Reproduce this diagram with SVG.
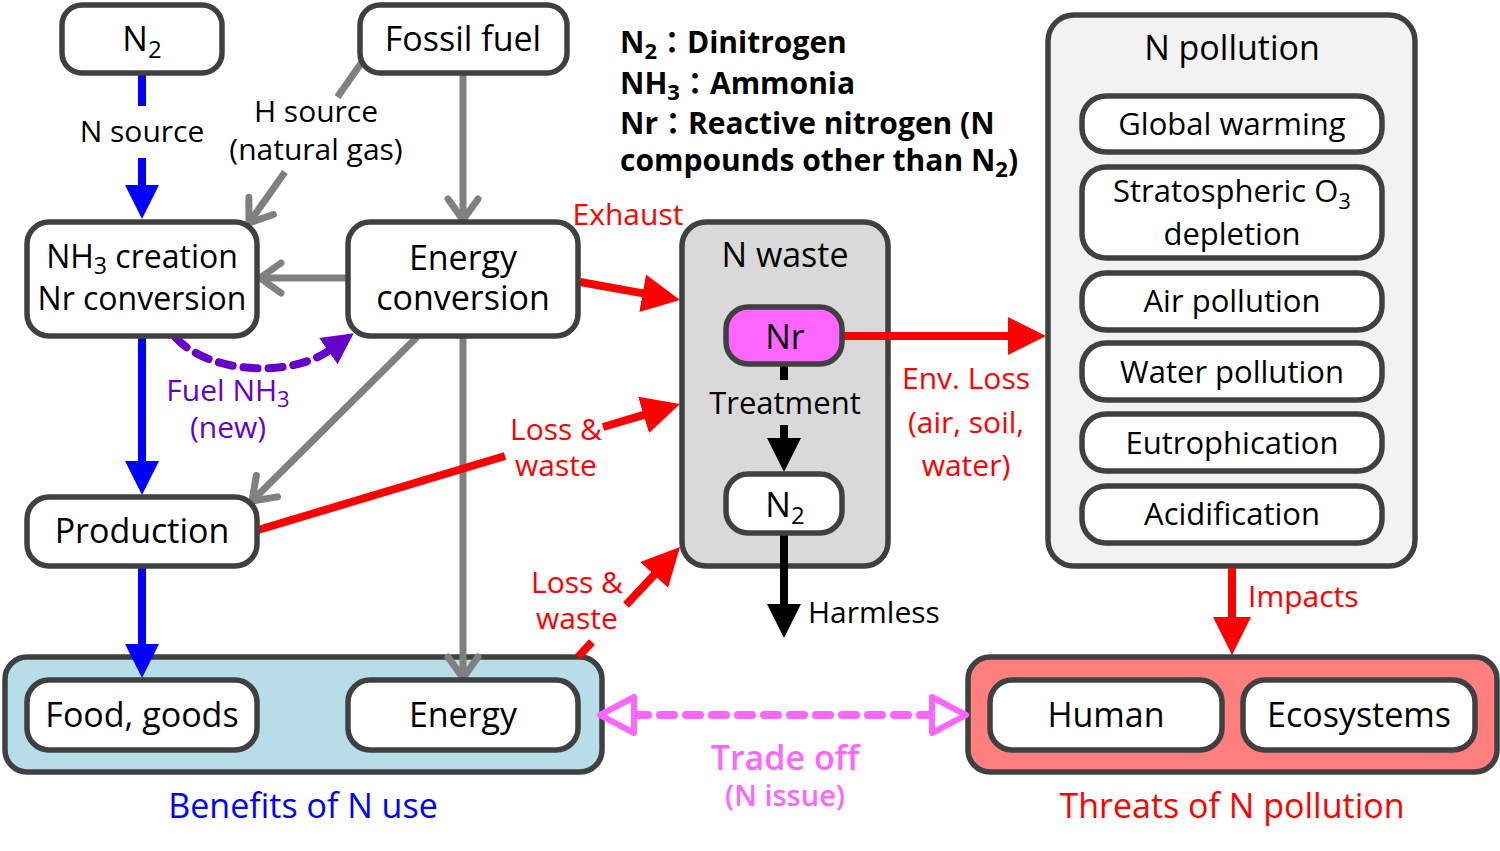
<svg xmlns="http://www.w3.org/2000/svg" width="1500" height="851" viewBox="0 0 1500 851">
<style>
text{font-family:"Open Sans","Noto Sans","Noto Sans CJK JP",sans-serif;fill:#000;text-anchor:middle}
.box{fill:#fff;stroke:#404040;stroke-width:5.5}
.m{font-size:34px}
.s{font-size:30px}
.r{fill:#ff0000;font-size:30px}
.lg{font-weight:bold;font-size:30px;text-anchor:start}
.blue{stroke:#0000ff;stroke-width:8;fill:none}
.gray{stroke:#808080;stroke-width:7;fill:none}
.red{stroke:#ff0000;stroke-width:8;fill:none}
.blk{stroke:#000;stroke-width:8;fill:none}
</style>
<defs>
<marker id="hb" markerUnits="userSpaceOnUse" viewBox="0 -18 36 36" markerWidth="36" markerHeight="36" refX="2" refY="0" orient="auto"><path d="M0,-17 L34,0 L0,17 Z" fill="#0000ff"/></marker>
<marker id="hr" markerUnits="userSpaceOnUse" viewBox="0 -20 40 40" markerWidth="40" markerHeight="40" refX="2" refY="0" orient="auto"><path d="M0,-19 L38,0 L0,19 Z" fill="#ff0000"/></marker>
<marker id="hk" markerUnits="userSpaceOnUse" viewBox="0 -18 36 36" markerWidth="36" markerHeight="36" refX="2" refY="0" orient="auto"><path d="M0,-17 L34,0 L0,17 Z" fill="#000"/></marker>
<marker id="hp" markerUnits="userSpaceOnUse" viewBox="0 -17 32 34" markerWidth="32" markerHeight="34" refX="2" refY="0" orient="auto"><path d="M0,-16 L31,0 L0,16 Z" fill="#6600cc"/></marker>
<marker id="hg" markerUnits="userSpaceOnUse" viewBox="-28 -20 32 40" markerWidth="32" markerHeight="40" refX="0" refY="0" orient="auto"><path d="M-21,-15 L0,0 L-21,15" fill="none" stroke="#808080" stroke-width="7" stroke-linecap="round" stroke-linejoin="round"/></marker>
<marker id="hm" markerUnits="userSpaceOnUse" viewBox="-40 -24 46 48" markerWidth="46" markerHeight="48" refX="-34" refY="0" orient="auto-start-reverse"><path d="M-34,-18 L0,0 L-34,18 Z" fill="#fff" stroke="#ff66ff" stroke-width="6" stroke-linejoin="round"/></marker>
</defs>

<!-- group containers -->
<g id="benefits">
<rect x="5" y="657" width="597" height="115" rx="22" fill="#b7dde8" stroke="#404040" stroke-width="5.5"/>
<text x="303" y="818" class="m" style="fill:#0000ff">Benefits of N use</text>
</g>
<g id="threats">
<rect x="968" y="657" width="529" height="115" rx="22" fill="#ff7f7f" stroke="#404040" stroke-width="5.5"/>
<text x="1232" y="818" class="m" style="fill:#ff0000">Threats of N pollution</text>
</g>
<g id="nwaste">
<rect x="682" y="222" width="206" height="344" rx="24" fill="#d9d9d9" stroke="#404040" stroke-width="5.5"/>
<text x="785" y="267" class="m">N waste</text>
</g>
<g id="npollution">
<rect x="1048" y="15" width="367" height="551" rx="26" fill="#f2f2f2" stroke="#404040" stroke-width="5.5"/>
<text x="1232" y="60" class="m">N pollution</text>
</g>

<!-- connectors -->
<g id="connectors">
<path class="blue" d="M142,73 V106"/>
<path class="blue" d="M142,158 V187" marker-end="url(#hb)"/>
<path class="blue" d="M142,338 V463" marker-end="url(#hb)"/>
<path class="blue" d="M142,568 V646" marker-end="url(#hb)"/>

<path class="gray" d="M362,62 L337.5,97"/>
<path class="gray" d="M285,172 L249,223" marker-end="url(#hg)"/>
<path class="gray" d="M463,73 V220" marker-end="url(#hg)"/>
<path class="gray" d="M348,278 H260" marker-end="url(#hg)"/>
<path class="gray" d="M417,337 L252,501" marker-end="url(#hg)"/>
<path class="gray" d="M463,336 V678" marker-end="url(#hg)"/>

<path d="M176,338 C210,374 290,378 330,350" fill="none" stroke="#6600cc" stroke-width="8" stroke-dasharray="14 11" stroke-linecap="round" marker-end="url(#hp)"/>

<path class="red" d="M580,282 L644.6,293.6" marker-end="url(#hr)"/>
<path class="red" d="M258,530 L505,456"/>
<path class="red" d="M603,427 L645.5,414.3" marker-end="url(#hr)"/>
<path class="red" d="M578,657 L592,642"/>
<path class="red" d="M626,605 L655.5,573.4" marker-end="url(#hr)"/>
<path class="red" d="M842,336 H1010" marker-end="url(#hr)"/>
<path class="red" d="M1232,568 V619" marker-end="url(#hr)"/>

<path class="blk" d="M784,364 V380"/>
<path class="blk" d="M784,425 V440" marker-end="url(#hk)"/>
<path class="blk" d="M784,533 V606" marker-end="url(#hk)"/>

<path d="M634,715 H932" fill="none" stroke="#ff66ff" stroke-width="8" stroke-dasharray="14 12" stroke-linecap="round" marker-start="url(#hm)" marker-end="url(#hm)"/>
</g>

<!-- nodes -->
<g id="n2top"><rect class="box" x="62" y="5" width="160" height="68" rx="20"/><text x="142" y="51" class="m">N<tspan font-size="24" dy="7">2</tspan></text></g>
<g id="fossil"><rect class="box" x="360" y="5" width="207" height="68" rx="20"/><text x="463" y="51" class="m">Fossil fuel</text></g>
<g id="nh3"><rect class="box" x="27" y="222" width="230" height="114" rx="22"/><text x="142" y="268" font-size="32">NH<tspan font-size="23" dy="6">3</tspan><tspan dy="-6"> creation</tspan></text><text x="142" y="310" font-size="32">Nr conversion</text></g>
<g id="energyconv"><rect class="box" x="348" y="222" width="230" height="114" rx="22"/><text x="463" y="270" class="m">Energy</text><text x="463" y="310" class="m">conversion</text></g>
<g id="production"><rect class="box" x="27" y="497" width="230" height="69" rx="22"/><text x="142" y="543" class="m">Production</text></g>
<g id="food"><rect class="box" x="27" y="680" width="230" height="70" rx="22"/><text x="142" y="727" class="m">Food, goods</text></g>
<g id="energy"><rect class="box" x="348" y="680" width="230" height="70" rx="22"/><text x="463" y="727" class="m">Energy</text></g>
<g id="human"><rect class="box" x="990" y="680" width="232" height="70" rx="22"/><text x="1106" y="727" class="m">Human</text></g>
<g id="ecosystems"><rect class="box" x="1243" y="680" width="232" height="70" rx="22"/><text x="1359" y="727" class="m">Ecosystems</text></g>
<g id="nr"><rect x="726" y="307" width="116" height="57" rx="22" fill="#ff66ff" stroke="#404040" stroke-width="5.5"/><text x="785" y="349" class="m">Nr</text></g>
<g id="n2waste"><rect class="box" x="726" y="474" width="116" height="59" rx="22"/><text x="785" y="517" class="m">N<tspan font-size="24" dy="7">2</tspan></text></g>
<g id="gw"><rect class="box" x="1082" y="96" width="300" height="56" rx="24"/><text x="1232" y="135" font-size="31">Global warming</text></g>
<g id="o3"><rect class="box" x="1082" y="167" width="300" height="91" rx="24"/><text x="1232" y="202" font-size="31">Stratospheric O<tspan font-size="22" dy="7">3</tspan></text><text x="1232" y="245" font-size="31">depletion</text></g>
<g id="air"><rect class="box" x="1082" y="273" width="300" height="57" rx="24"/><text x="1232" y="312" font-size="31">Air pollution</text></g>
<g id="water"><rect class="box" x="1082" y="343" width="300" height="57" rx="24"/><text x="1232" y="383" font-size="31">Water pollution</text></g>
<g id="eutro"><rect class="box" x="1082" y="414" width="300" height="57" rx="24"/><text x="1232" y="454" font-size="31">Eutrophication</text></g>
<g id="acid"><rect class="box" x="1082" y="486" width="300" height="57" rx="24"/><text x="1232" y="525" font-size="31">Acidification</text></g>

<!-- labels -->
<g id="labels">
<text x="142" y="142" class="s">N source</text>
<text x="316" y="122" class="s">H source</text>
<text x="316" y="160" class="s">(natural gas)</text>
<text x="228" y="401" class="s" style="fill:#6600cc">Fuel NH<tspan font-size="22" dy="6">3</tspan></text>
<text x="228" y="438" class="s" style="fill:#6600cc">(new)</text>
<text x="628" y="225" class="r">Exhaust</text>
<text x="556" y="440" class="r">Loss &amp;</text>
<text x="556" y="476" class="r">waste</text>
<text x="577" y="593" class="r">Loss &amp;</text>
<text x="577" y="629" class="r">waste</text>
<text x="966" y="389" class="r">Env. Loss</text>
<text x="966" y="433" class="r">(air, soil,</text>
<text x="966" y="476" class="r">water)</text>
<text x="1248" y="607" class="r" style="text-anchor:start">Impacts</text>
<text x="785" y="414" font-size="31">Treatment</text>
<text x="808" y="623" class="s" style="text-anchor:start">Harmless</text>
<text x="785" y="770" font-size="34" font-weight="600" style="fill:#ff66ff">Trade off</text>
<text x="785" y="806" font-size="29" font-weight="600" style="fill:#ff66ff">(N issue)</text>
</g>

<g id="legend">
<text x="620" y="53" class="lg">N<tspan font-size="22" dy="6">2</tspan><tspan dy="-6">：Dinitrogen</tspan></text>
<text x="620" y="94" class="lg">NH<tspan font-size="22" dy="6">3</tspan><tspan dy="-6">：Ammonia</tspan></text>
<text x="620" y="134" class="lg">Nr：Reactive nitrogen (N</text>
<text x="620" y="171" class="lg">compounds other than N<tspan font-size="22" dy="6">2</tspan><tspan dy="-6">)</tspan></text>
</g>
</svg>
